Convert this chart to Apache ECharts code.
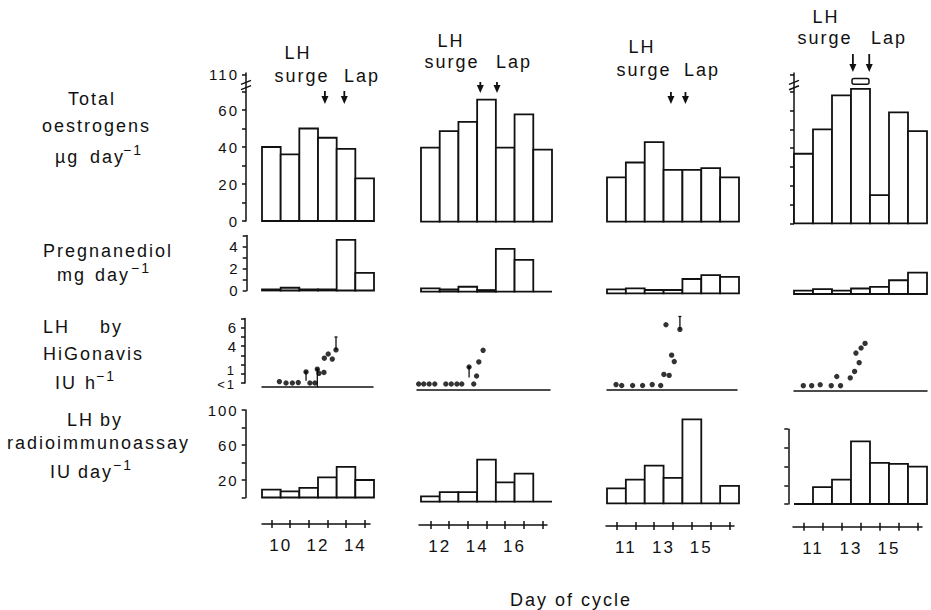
<!DOCTYPE html>
<html>
<head>
<meta charset="utf-8">
<script src="https://cdn.jsdelivr.net/npm/echarts@6/dist/echarts.min.js"></script>
<style>
  html, body { margin: 0; padding: 0; background: #fff; }
  #chart { width: 931px; height: 610px; }
  #chart text { letter-spacing: 2px; }
</style>
</head>
<body>
<div id="chart"></div>
<script>
// Four menstrual cycles, one column each. Daily bars start at the first collection day.
const firstDay = [9, 11, 10, 10];

// Total oestrogens, µg/day (values above 70 are drawn on the broken part of the scale)
const oestrogens1 = [40, 36, 50, 45, 39, 23];
const oestrogens2 = [40, 49, 54, 66, 40, 58, 39];
const oestrogens3 = [24, 32, 43, 28, 28, 29, 24];
const oestrogens4 = [37, 50, 68, 110, 15, 59, 49];

// Pregnanediol, mg/day
const pregnanediol1 = [0.1, 0.25, 0.1, 0.1, 4.6, 1.6];
const pregnanediol2 = [0.3, 0.2, 0.45, 0.15, 3.9, 2.9, 0];
const pregnanediol3 = [0.35, 0.45, 0.3, 0.3, 1.3, 1.65, 1.5];
const pregnanediol4 = [0.3, 0.45, 0.3, 0.5, 0.65, 1.25, 1.95];

// LH by HiGonavis, IU/h (0 = below 1); sample time in days of cycle
const hgDay1 = [9.94, 10.30, 10.64, 10.96, 11.38, 11.59, 11.86, 11.99, 12.08, 12.35, 12.37, 12.58, 12.80, 13.00];
const hgLH1  = [0.15, 0, 0, 0.05, 1.2, 0, 0, 1.5, 1.05, 1.15, 2.7, 3.15, 2.6, 3.6];
const hgRange1 = [[11.38, 0.25, 1.2], [11.99, -0.45, 1.5], [13.00, 3.6, 5.0]];

const hgDay2 = [10.89, 11.16, 11.45, 11.75, 12.34, 12.63, 12.93, 13.19, 13.58, 13.83, 13.98, 14.10, 14.33];
const hgLH2  = [0, 0, 0, 0, 0, 0, 0, 0, 1.85, 0, 0.87, 2.4, 3.66];
const hgRange2 = [[13.58, 0.7, 1.85]];

const hgDay3 = [10.48, 10.78, 11.36, 11.89, 12.40, 12.85, 13.02, 13.13, 13.30, 13.43, 13.57, 13.87];
const hgLH3  = [0.1, 0, 0, 0, 0.1, 0, 1.2, 6.6, 1.1, 3.3, 2.6, 6.1];
const hgRange3 = [[13.87, 6.1, 7.5]];

const hgDay4 = [10.49, 10.93, 11.38, 11.96, 12.25, 12.45, 12.96, 13.19, 13.26, 13.43, 13.53, 13.74];
const hgLH4  = [0, 0, 0.1, 0, 1.0, 0, 0.85, 1.55, 3.55, 2.5, 4.1, 4.6];
const hgRange4 = [];

// LH by radioimmunoassay, IU/day
const lhRia1 = [9, 7, 11, 23, 35, 20];
const lhRia2 = [6, 11, 11, 48, 22, 32, 0];
const lhRia3 = [17, 27, 43, 29, 96, 0, 20];
const lhRia4 = [0, 18, 26, 67, 44, 43, 40];

// Timing of the LH surge and of laparoscopy, days of cycle
const surgeDay = [12.37, 14.17, 13.39, 13.10];
const lapDay   = [13.41, 15.06, 14.16, 13.96];

// Day-of-cycle axis under each column
const dayLabels1 = [10, 12, 14];
const dayLabels2 = [12, 14, 16];
const dayLabels3 = [11, 13, 15];
const dayLabels4 = [11, 13, 15];

// Axis tick labels
const oeTickLabels = [0, 20, 40, 60];
const oeBrokenLabel = '110';
const prTickLabels = [0, 2, 4];
const hgTickLabels = [4, 6];
const hgFootLabels = [[1, '1'], [0, '<1']];   // crowded labels at the foot of the HiGonavis scale
const riaTickLabels = [20, 60, 100];

// ---------------------------------------------------------------------------
const INK = '#111';
const FONT = '"Liberation Sans", Arial, Helvetica, sans-serif';
const BREAK_AT = 70;     // oestrogen scale is interrupted above this value
const BREAK_TOP = 79;    // axis position used for the 110 mark

const oeData = [oestrogens1, oestrogens2, oestrogens3, oestrogens4];
const prData = [pregnanediol1, pregnanediol2, pregnanediol3, pregnanediol4];
const riaData = [lhRia1, lhRia2, lhRia3, lhRia4];
const hgDays = [hgDay1, hgDay2, hgDay3, hgDay4];
const hgVals = [hgLH1, hgLH2, hgLH3, hgLH4];
const hgRanges = [hgRange1, hgRange2, hgRange3, hgRange4];
const dayLabels = [dayLabels1, dayLabels2, dayLabels3, dayLabels4];

// panel placement per column (pixels)
const layout = [
  { left: 262, width: 112, oeBase: 221,   oeScale: 1.85, prBase: 290.5, hgZero: 383,   hgLine: 387, hgMin: 9,    hgMax: 15,   hgLeft: 262, hgWidth: 111, riaBase: 497.5, riaScale: 0.875, riaMax: 100, dayLine: 524,   dayLeft: 262, dayWidth: 108 },
  { left: 421, width: 131, oeBase: 221.7, oeScale: 1.85, prBase: 291.7, hgZero: 384,   hgLine: 390, hgMin: 10.8, hgMax: 17.9, hgLeft: 417, hgWidth: 133, riaBase: 501.7, riaScale: 0.875, riaMax: 100, dayLine: 525,   dayLeft: 419, dayWidth: 128 },
  { left: 607, width: 132, oeBase: 221.7, oeScale: 1.85, prBase: 293.3, hgZero: 385.5, hgLine: 390, hgMin: 10,   hgMax: 16.9, hgLeft: 607, hgWidth: 130, riaBase: 503.3, riaScale: 0.875, riaMax: 100, dayLine: 526,   dayLeft: 606, dayWidth: 128 },
  { left: 794, width: 133, oeBase: 223.3, oeScale: 1.88, prBase: 294,   hgZero: 385.7, hgLine: 391, hgMin: 10,   hgMax: 17,   hgLeft: 794, hgWidth: 133, riaBase: 504,   riaScale: 0.935, riaMax: 80,  dayLine: 526.7, dayLeft: 793, dayWidth: 129 }
];
const PR_SCALE = 11;   // px per mg
const HG_SCALE = 9.2;  // px per IU/h
const HG_AXIS_OFFSET = 17;

const grids = [], xAxes = [], yAxes = [], series = [];
const gridOf = { oe: [], pr: [], hg: [], ria: [], day: [] };

const line = { color: INK, width: 1.5 };

function addGrid(left, top, width, height) {
  grids.push({ left, top, width, height });
  return grids.length - 1;
}

function makeBarItem(broken) {
  return function (params, api) {
    const d = api.value(0), v = api.value(1);
    const over = broken && v > BREAK_AT;
    const drawn = over ? BREAK_AT + 1.5 : v;
    const p0 = api.coord([d, 0]);
    const p1 = api.coord([d + 1, drawn]);
    const children = [{
      type: 'rect',
      shape: { x: p0[0], y: p1[1], width: p1[0] - p0[0], height: p0[1] - p1[1] },
      style: { fill: '#fff', stroke: INK, lineWidth: 1.8 }
    }];
    if (over) {
      const c0 = api.coord([d, BREAK_TOP - 5]);
      const c1 = api.coord([d + 1, BREAK_TOP - 2]);
      children.push({
        type: 'rect',
        shape: { x: c0[0] + 1, y: c1[1], width: c1[0] - c0[0] - 2, height: c0[1] - c1[1], r: 2 },
        style: { fill: '#fff', stroke: INK, lineWidth: 1.5 }
      });
    }
    return { type: 'group', children };
  };
}

function rangeItem(params, api) {
  const x = api.value(0);
  const a = api.coord([x, api.value(1)]);
  const b = api.coord([x, api.value(2)]);
  return {
    type: 'group',
    children: [
      { type: 'line', shape: { x1: a[0], y1: a[1], x2: b[0], y2: b[1] }, style: { stroke: INK, lineWidth: 1.3 } },
      { type: 'line', shape: { x1: b[0] - 1.5, y1: b[1], x2: b[0] + 1.5, y2: b[1] }, style: { stroke: INK, lineWidth: 1.3 } }
    ]
  };
}

function yAxisStyle(opts) {
  const shown = !!opts.show;
  return {
    type: 'value', min: opts.min, max: opts.max, offset: opts.offset || 0,
    show: shown,
    axisLine: { show: shown, lineStyle: line },
    axisTick: { show: shown, length: 4, lineStyle: line, customValues: opts.ticks },
    axisLabel: {
      show: shown && !!opts.labels,
      customValues: opts.labels || [],
      formatter: opts.formatter || (v => String(v)),
      hideOverlap: false, showMinLabel: true, showMaxLabel: true,
      color: INK, fontFamily: FONT, fontSize: 15, margin: 7
    },
    splitLine: { show: false }
  };
}

function barPanel(kind, c, gi, values, yAxisOpts) {
  const d0 = firstDay[c];
  xAxes.push({ gridIndex: gi, type: 'value', min: d0, max: d0 + values.length, show: false });
  yAxes.push(Object.assign({ gridIndex: gi }, yAxisStyle(yAxisOpts)));
  series.push({
    type: 'custom', name: kind + (c + 1),
    xAxisIndex: xAxes.length - 1, yAxisIndex: yAxes.length - 1,
    data: values.map((v, i) => [d0 + i, v]),
    renderItem: makeBarItem(kind === 'oe'), clip: false, silent: true
  });
  gridOf[kind][c] = gi;
}

for (let c = 0; c < 4; c++) {
  const L = layout[c];
  const n = oeData[c].length;
  const pxPerDay = L.width / n;
  const tens = [0, 10, 20, 30, 40, 50, 60, 70];

  // total oestrogens
  let g = addGrid(L.left, L.oeBase - 80 * L.oeScale, L.width, 80 * L.oeScale);
  barPanel('oe', c, g, oeData[c], {
    show: c === 0 || c === 3, min: 0, max: 80,
    offset: c === 0 ? 16 : 0,
    ticks: tens.concat([BREAK_TOP]),
    labels: c === 0 ? oeTickLabels.concat([BREAK_TOP]) : null,
    formatter: v => (v === BREAK_TOP ? oeBrokenLabel : String(v))
  });

  // pregnanediol
  g = addGrid(L.left, L.prBase - 5 * PR_SCALE, L.width, 5 * PR_SCALE);
  barPanel('pr', c, g, prData[c], {
    show: c === 0, min: 0, max: 5, offset: 15.3,
    ticks: [0, 1, 2, 3, 4, 5], labels: prTickLabels
  });

  // LH by HiGonavis
  g = addGrid(L.hgLeft, L.hgZero - 7 * HG_SCALE, L.hgWidth, 7 * HG_SCALE);
  gridOf.hg[c] = g;
  xAxes.push({
    gridIndex: g, type: 'value', min: L.hgMin, max: L.hgMax, offset: L.hgLine - L.hgZero,
    axisLine: { show: true, onZero: false, lineStyle: line },
    axisTick: { show: false }, axisLabel: { show: false }, splitLine: { show: false }
  });
  yAxes.push(Object.assign({ gridIndex: g }, yAxisStyle({
    show: c === 0, min: 0, max: 7, offset: HG_AXIS_OFFSET,
    ticks: [0, 1, 2, 3, 4, 5, 6, 7], labels: hgTickLabels
  })));
  series.push({
    type: 'custom', name: 'hgRange' + (c + 1),
    xAxisIndex: xAxes.length - 1, yAxisIndex: yAxes.length - 1,
    data: hgRanges[c], renderItem: rangeItem, clip: false, silent: true
  });
  series.push({
    type: 'scatter', name: 'hg' + (c + 1),
    xAxisIndex: xAxes.length - 1, yAxisIndex: yAxes.length - 1,
    data: hgDays[c].map((d, i) => [d, hgVals[c][i]]),
    symbol: 'circle', symbolSize: 5.4, itemStyle: { color: '#000' }, clip: false, silent: true
  });

  // LH by radioimmunoassay
  g = addGrid(L.left, L.riaBase - L.riaMax * L.riaScale, L.width, L.riaMax * L.riaScale);
  const riaTicks = [];
  for (let t = 0; t <= L.riaMax; t += 20) riaTicks.push(t);
  barPanel('ria', c, g, riaData[c], {
    show: c === 0 || c === 3, min: 0, max: L.riaMax,
    offset: c === 0 ? 16.3 : 5.7,
    ticks: riaTicks, labels: c === 0 ? riaTickLabels : null
  });

  // day of cycle axis: '+' marks at day boundaries, labels on the days
  g = addGrid(L.dayLeft, L.dayLine - 1, L.dayWidth, 1);
  gridOf.day[c] = g;
  const d0 = firstDay[c];
  const dMin = d0 + (L.dayLeft - L.left) / pxPerDay;
  const dMax = d0 + (L.dayLeft + L.dayWidth - L.left) / pxPerDay;
  const dayTicks = [];
  for (let t = d0 + 0.5; t < dMax; t += 1) dayTicks.push(t);
  xAxes.push({
    gridIndex: g, type: 'value', min: dMin, max: dMax, position: 'bottom',
    axisLine: { show: true, onZero: false, lineStyle: line },
    axisTick: { show: true, length: 4, lineStyle: line, customValues: dayTicks },
    axisLabel: { customValues: dayLabels[c], color: INK, fontFamily: FONT, fontSize: 17, margin: 13, hideOverlap: false },
    splitLine: { show: false }
  });
  xAxes.push({
    gridIndex: g, type: 'value', min: dMin, max: dMax, position: 'bottom',
    axisLine: { show: false, onZero: false },
    axisTick: { show: true, inside: true, length: 4, lineStyle: line, customValues: dayTicks },
    axisLabel: { show: false }, splitLine: { show: false }
  });
  yAxes.push({ gridIndex: g, type: 'value', show: false });
}

const chart = echarts.init(document.getElementById('chart'), null, { renderer: 'svg', width: 931, height: 610 });
chart.setOption({
  backgroundColor: '#fff',
  animation: false,
  textStyle: { fontFamily: FONT, color: INK },
  grid: grids, xAxis: xAxes, yAxis: yAxes, series
});

// ---- annotations: row titles, event arrows, axis breaks ----
function txt(text, x, y, size, align) {
  return {
    type: 'text', silent: true,
    style: {
      text, x, y, fill: INK, font: `${size || 18}px ${FONT}`,
      align: align || 'left', textAlign: align || 'left',
      verticalAlign: 'middle', textVerticalAlign: 'middle'
    }
  };
}
// unit exponent, set small and raised after the unit
function sup(x, y) { return txt('−1', x, y, 14); }

const gfx = [
  txt('Total', 68, 99), txt('oestrogens', 42, 126),
  txt('µg', 55, 157), txt('day', 90, 157), sup(123, 150),
  txt('Pregnanediol', 43, 251),
  txt('mg', 57, 275), txt('day', 95, 275), sup(131, 268),
  txt('LH', 43, 327), txt('by', 100, 327), txt('HiGonavis', 43, 354),
  txt('IU', 55, 383), txt('h', 85, 383), sup(96, 376),
  txt('LH', 67, 420), txt('by', 100, 420), txt('radioimmunoassay', 7, 443),
  txt('IU', 50, 472), txt('day', 78, 472), sup(113, 465),
  txt('Day of cycle', 571, 600, 18, 'center')
];

// crowded "1" and "<1" marks at the foot of the HiGonavis scale, nudged apart
hgFootLabels.forEach(([v, label]) => {
  const p = chart.convertToPixel({ gridIndex: gridOf.hg[0] }, [layout[0].hgMin, v]);
  const nudge = v === 0 ? 1.5 : -3;
  gfx.push(txt(label, p[0] - HG_AXIS_OFFSET - 9, p[1] + nudge, 13, 'right'));
});

// event labels above each oestrogen panel
const eventText = [
  { lh: [298, 53], surge: [302, 76], lap: [362, 76], arrow: [91, 104] },
  { lh: [451, 41], surge: [452, 62], lap: [514, 62], arrow: [82, 93] },
  { lh: [642, 47], surge: [644, 70], lap: [702, 70], arrow: [92, 104] },
  { lh: [826, 17], surge: [825, 38], lap: [889, 38], arrow: [54, 72] }
];

function arrow(x, y0, y1) {
  return [
    { type: 'line', silent: true, shape: { x1: x, y1: y0, x2: x, y2: y1 - 5 }, style: { stroke: INK, lineWidth: 1.8 } },
    { type: 'polygon', silent: true, shape: { points: [[x - 3.5, y1 - 8], [x + 3.5, y1 - 8], [x, y1]] }, style: { fill: INK } }
  ];
}

for (let c = 0; c < 4; c++) {
  const e = eventText[c];
  gfx.push(txt('LH', e.lh[0], e.lh[1], 18, 'center'));
  gfx.push(txt('surge', e.surge[0], e.surge[1], 18, 'center'));
  gfx.push(txt('Lap', e.lap[0], e.lap[1], 18, 'center'));
  const g = gridOf.oe[c];
  const xs = chart.convertToPixel({ gridIndex: g }, [surgeDay[c], 0])[0];
  const xl = chart.convertToPixel({ gridIndex: g }, [lapDay[c], 0])[0];
  gfx.push(...arrow(xs, e.arrow[0], e.arrow[1]));
  gfx.push(...arrow(xl, e.arrow[0], e.arrow[1]));
}

// broken oestrogen scale on the first and last columns
[[0, 16], [3, 0]].forEach(([c, off]) => {
  const g = gridOf.oe[c];
  const lo = chart.convertToPixel({ gridIndex: g }, [firstDay[c], BREAK_AT + 1])[1];
  const hi = chart.convertToPixel({ gridIndex: g }, [firstDay[c], BREAK_AT + 6])[1];
  const x = layout[c].left - off;
  gfx.push({ type: 'rect', silent: true, shape: { x: x - 2, y: hi, width: 4, height: lo - hi }, style: { fill: '#fff' } });
  gfx.push({ type: 'line', silent: true, shape: { x1: x - 5, y1: lo, x2: x + 5, y2: lo - 4 }, style: { stroke: INK, lineWidth: 1.5 } });
  gfx.push({ type: 'line', silent: true, shape: { x1: x - 5, y1: hi + 4, x2: x + 5, y2: hi }, style: { stroke: INK, lineWidth: 1.5 } });
});

chart.setOption({ graphic: { elements: gfx } });
</script>
</body>
</html>
